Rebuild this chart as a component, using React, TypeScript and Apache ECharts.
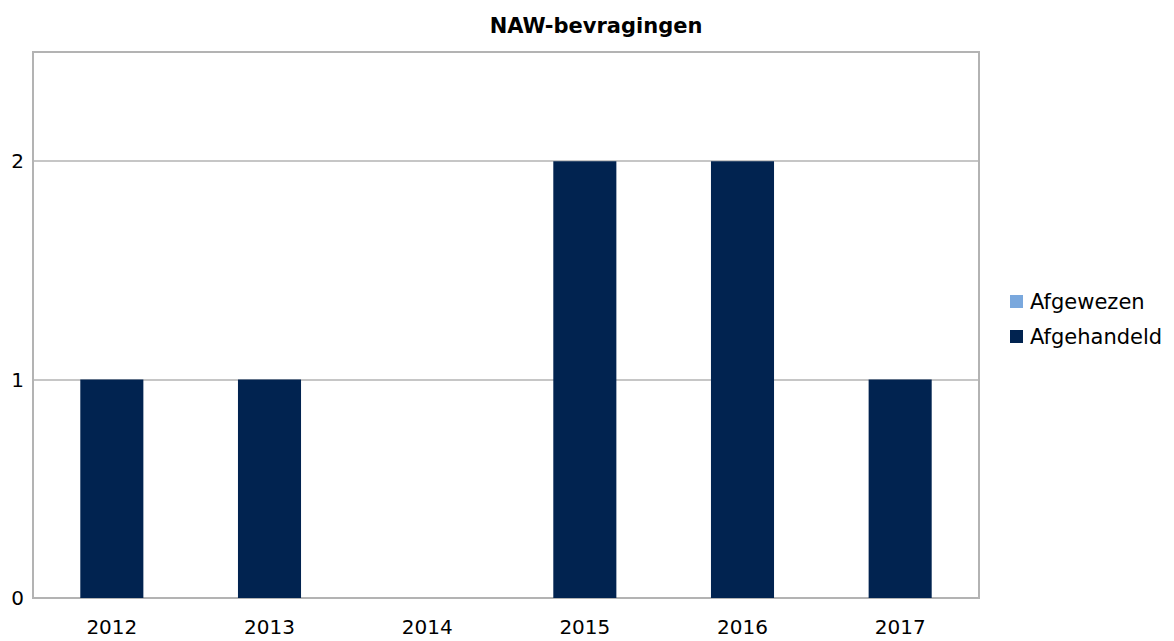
import React, { useEffect, useRef } from "react";
import * as echarts from "echarts";

const titleText = "NAW-bevragingen";
const categories = ["2012", "2013", "2014", "2015", "2016", "2017"];
const afgewezen = [0, 0, 0, 0, 0, 0];
const afgehandeld = [1, 1, 0, 2, 2, 1];
const seriesNames = ["Afgewezen", "Afgehandeld"];

const FONT = "'DejaVu Sans', Verdana, sans-serif";

export default function App() {
  const ref = useRef<HTMLDivElement>(null);
  useEffect(() => {
    if (!ref.current) return;
    const chart = echarts.init(ref.current, undefined, { renderer: "svg" });
    chart.setOption({
      animation: false,
      backgroundColor: "#ffffff",
      textStyle: { fontFamily: FONT },
      title: {
        text: titleText,
        left: 591,
        top: 10,
        textAlign: "center",
        textStyle: { fontFamily: FONT, fontWeight: "bold", fontSize: 21, color: "#000" },
      },
      legend: {
        orient: "vertical",
        left: 1005,
        top: 286,
        itemWidth: 13,
        itemHeight: 13,
        itemGap: 14,
        icon: "rect",
        data: seriesNames,
        textStyle: { fontFamily: FONT, fontSize: 21, color: "#000", padding: [0, 0, 0, 2] },
      },
      grid: {
        left: 33,
        right: 195,
        top: 52,
        bottom: 43,
        show: true,
        borderColor: "#b3b3b3",
        borderWidth: 2,
        backgroundColor: "transparent",
      },
      xAxis: {
        type: "category",
        data: categories,
        axisLine: { show: false },
        axisTick: { show: false },
        axisLabel: { margin: 19, fontSize: 20, color: "#000", fontFamily: FONT },
      },
      yAxis: {
        type: "value",
        min: 0,
        max: 2.5,
        interval: 1,
        axisLine: { show: false },
        axisTick: { show: false },
        axisLabel: {
          margin: 9,
          fontSize: 20,
          color: "#000",
          fontFamily: FONT,
          formatter: (v: number) => (Number.isInteger(v) ? String(v) : ""),
        },
        splitLine: { lineStyle: { color: "#b3b3b3", width: 1.5 } },
      },
      series: [
        {
          name: seriesNames[0],
          type: "bar",
          stack: "total",
          barWidth: "40%",
          data: afgewezen,
          itemStyle: { color: "#7aa8dd" },
        },
        {
          name: seriesNames[1],
          type: "bar",
          stack: "total",
          barWidth: "40%",
          data: afgehandeld,
          itemStyle: { color: "#012350" },
        },
      ],
    });
    return () => chart.dispose();
  }, []);
  return <div ref={ref} style={{ width: 1174, height: 641, position: "absolute", left: 0, top: 0 }} />;
}
